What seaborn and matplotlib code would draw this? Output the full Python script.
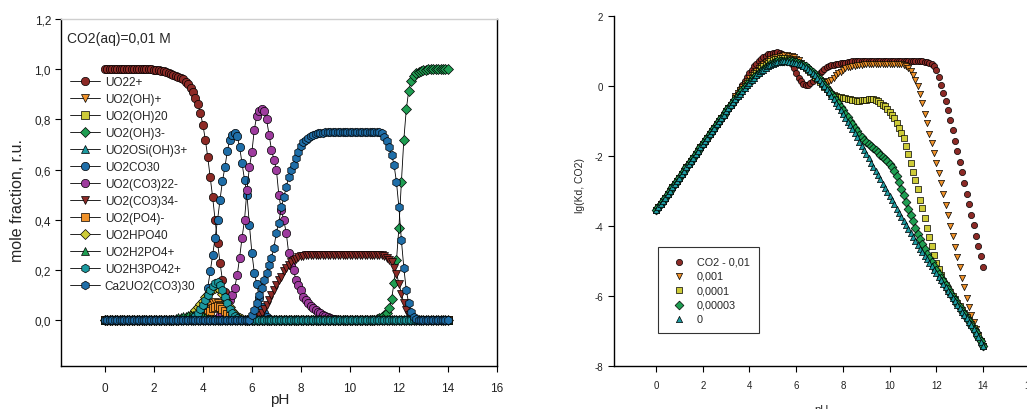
import matplotlib
matplotlib.use("Agg")
import matplotlib.pyplot as plt
import seaborn as sns

sns.set_theme(style="white")
plt.rcParams['font.family'] = ['Liberation Sans', 'DejaVu Sans']

# ---------------- data ----------------
ph = [round(0.1 * i, 1) for i in range(141)]   # pH 0.0 ... 14.0

# left panel: mole fractions (CO2(aq)=0,01 M)
uo2_2p = [1.0]*20 + [0.998,0.997,0.996,0.994,0.992,0.99,0.987,0.983,0.978,0.974,
                     0.97,0.965,0.96,0.95,0.94,0.925,0.91,0.885,0.86,0.825,
                     0.78,0.72,0.65,0.57,0.49,0.40,0.31,0.23,0.16,0.115,
                     0.075,0.045,0.025,0.015,0.008,0.004,0.002] + [0.0]*84
uo2oh_p = [0.0]*37 + [0.005,0.01,0.018,0.028,0.04,0.05,0.06,0.068,0.072,0.07,
                      0.062,0.05,0.036,0.024,0.014,0.008,0.004,0.002] + [0.0]*86
uo2oh2_0 = [0.0]*141
uo2oh3_m = [0.0]*110 + [0.003,0.006,0.01,0.015,0.02,0.03,0.05,0.085,0.15,0.24,
                        0.37,0.55,0.72,0.84,0.915,0.955,0.975,0.985,0.99,0.994,
                        0.996,0.998] + [1.0]*9
uo2osi_p = [0.0]*141
uo2co3_0 = [0.0]*37 + [0.005,0.02,0.04,
                       0.06,0.09,0.13,0.195,0.26,0.33,0.40,0.48,0.555,0.61,
                       0.675,0.72,0.74,0.745,0.735,0.69,0.625,0.56,0.50,0.38,
                       0.27,0.19,0.145,0.09,0.055,0.03,0.015,0.007,0.003] + [0.0]*72
uo2co3_2m = [0.0]*46 + [0.01,0.02,0.03,0.045,
                        0.06,0.08,0.1,0.13,0.18,0.25,0.33,0.40,0.52,0.61,
                        0.67,0.76,0.815,0.835,0.84,0.835,0.80,0.74,0.68,0.64,
                        0.60,0.50,0.44,0.40,0.35,0.27,0.22,0.20,0.16,0.14,
                        0.12,0.095,0.08,0.068,0.058,0.05,0.043,0.035,0.03,0.022,
                        0.017,0.012,0.009,0.006,0.004,0.002] + [0.0]*45
uo2co3_3m = [0.0]*62 + [0.01,0.02,0.03,0.045,0.06,0.08,0.1,0.12,
                        0.14,0.16,0.175,0.195,0.21,0.222,0.232,0.24,0.246,0.251,
                        0.255,0.258,0.26,0.261] + [0.262]*30 + \
            [0.258,0.25,0.24,0.232,0.21,0.187,
             0.147,0.107,0.068,0.04,0.02,0.008,0.003] + [0.0]*14
uo2po4_m = [0.0]*39 + [0.005,0.01,0.018,0.028,0.038,0.048,0.055,0.058,0.055,0.047,
                       0.036,0.025,0.016,0.009,0.005,0.002] + [0.0]*86
uo2hpo4_0 = [0.0]*30 + [0.002,0.004,0.006,0.01,0.015,0.022,0.03,0.04,0.052,0.065,
                        0.078,0.092,0.105,0.117,0.126,0.13,0.128,0.12,0.107,0.09,
                        0.072,0.054,0.038,0.025,0.015,0.008,0.004,0.002] + [0.0]*83
uo2h2po4_p = [0.0]*25 + [0.002,0.003,0.005,0.007,0.009,
                         0.012,0.014,0.016,0.018,0.02,0.021,0.022,0.022,0.021,0.019,
                         0.016,0.013,0.01,0.007,0.005,0.003,0.002] + [0.0]*94
uo2h3po4_2p = [0.0]*34 + [0.003,0.006,0.01,0.018,0.03,0.045,
                          0.063,0.082,0.1,0.12,0.138,0.15,0.152,0.142,0.12,0.095,
                          0.068,0.045,0.028,0.016,0.008,0.004,0.002] + [0.0]*84
ca2uo2co3_0 = [0.0]*60 + [0.02,0.04,0.07,0.1,0.13,0.16,0.19,0.22,0.25,0.29,
                          0.35,0.39,0.45,0.49,0.53,0.57,0.60,0.62,0.645,0.67,
                          0.695,0.71,0.72,0.728,0.735,0.738,0.742,0.745,0.747,0.748] + \
              [0.75]*23 + [0.745,0.73,0.715,0.69,0.66,0.62,0.55,
                           0.45,0.32,0.21,0.12,0.068,0.035,0.015,0.006,0.002] + [0.0]*12

left_names = ["UO22+", "UO2(OH)+", "UO2(OH)20", "UO2(OH)3-", "UO2OSi(OH)3+", "UO2CO30",
              "UO2(CO3)22-", "UO2(CO3)34-", "UO2(PO4)-", "UO2HPO40", "UO2H2PO4+",
              "UO2H3PO42+", "Ca2UO2(CO3)30"]
left_values = [uo2_2p, uo2oh_p, uo2oh2_0, uo2oh3_m, uo2osi_p, uo2co3_0, uo2co3_2m,
               uo2co3_3m, uo2po4_m, uo2hpo4_0, uo2h2po4_p, uo2h3po4_2p, ca2uo2co3_0]

# right panel: lg(Kd) for several CO2 levels
kd_rise = [-3.56,-3.47,-3.38,-3.28,-3.19,-3.09,-3.0,-2.9,-2.81,-2.71,
           -2.62,-2.52,-2.43,-2.33,-2.24,-2.14,-2.05,-1.95,-1.86,-1.76,
           -1.67,-1.57,-1.48,-1.38,-1.29,-1.19,-1.1,-1.0,-0.91,-0.82,
           -0.73,-0.64,-0.55,-0.46]
kd_001 = kd_rise + [-0.3,-0.2,-0.1,0.02,0.14,0.26,
    0.37,0.47,0.56,0.64,0.71,0.77,0.82,0.86,0.9,0.92,
    0.94,0.95,0.96,0.95,0.92,0.87,0.81,0.73,0.63,0.5,
    0.37,0.24,0.14,0.07,0.04,0.04,0.08,0.15,0.23,0.31,
    0.38,0.44,0.49,0.53,0.56,0.59,0.61,0.63,0.64,0.65,
    0.66,0.67,0.68,0.69,0.7,0.7,0.7,0.7,0.7,0.7,
    0.7,0.7,0.7,0.7,0.7,0.7,0.7,0.7,0.7,0.7,
    0.7,0.7,0.7,0.7,0.7,0.7,0.7,0.7,0.7,0.7,
    0.7,0.7,0.7,0.7,0.7,0.69,0.68,0.66,0.62,0.56,
    0.45,0.25,0.02,-0.2,-0.43,-0.68,-0.98,-1.27,-1.56,-1.87,
    -2.18,-2.47,-2.77,-3.08,-3.38,-3.68,-3.98,-4.28,-4.58,-4.87,
    -5.18]
kd_0001 = kd_rise + [-0.3,-0.21,-0.12,-0.03,0.06,0.14,
    0.22,0.3,0.37,0.44,0.51,0.57,0.63,0.68,0.72,0.76,
    0.79,0.82,0.84,0.86,0.87,0.88,0.88,0.87,0.85,0.82,
    0.78,0.73,0.67,0.61,0.55,0.48,0.41,0.35,0.29,0.23,
    0.18,0.14,0.12,0.12,0.14,0.18,0.24,0.3,0.36,0.41,
    0.46,0.5,0.53,0.55,0.57,0.58,0.59,0.6,0.61,0.62,
    0.63,0.63,0.63,0.63,0.63,0.63,0.63,0.63,0.63,0.63,
    0.63,0.63,0.63,0.63,0.63,0.62,0.6,0.56,0.5,0.42,
    0.32,0.18,0.0,-0.22,-0.5,-0.79,-1.06,-1.36,-1.63,-1.92,
    -2.21,-2.5,-2.78,-3.1,-3.41,-3.7,-4.01,-4.3,-4.61,-4.9,
    -5.19,-5.48,-5.76,-6.05,-6.31,-6.56,-6.74,-6.95,-7.12,-7.3,
    -7.45]
kd_00001 = kd_rise + [-0.34,-0.25,-0.16,-0.08,0.0,0.08,
    0.15,0.23,0.3,0.37,0.44,0.5,0.56,0.61,0.66,0.7,
    0.73,0.76,0.78,0.79,0.8,0.8,0.79,0.77,0.75,0.72,
    0.69,0.65,0.61,0.56,0.51,0.45,0.39,0.33,0.26,0.19,
    0.12,0.05,-0.02,-0.09,-0.16,-0.22,-0.26,-0.29,-0.31,-0.33,
    -0.34,-0.35,-0.36,-0.37,-0.39,-0.41,-0.42,-0.42,-0.41,-0.4,
    -0.39,-0.38,-0.38,-0.38,-0.4,-0.44,-0.49,-0.54,-0.58,-0.66,
    -0.74,-0.82,-0.92,-1.05,-1.2,-1.35,-1.5,-1.72,-1.95,-2.2,
    -2.45,-2.7,-2.95,-3.25,-3.5,-3.78,-4.05,-4.32,-4.58,-4.82,
    -5.05,-5.24,-5.42,-5.57,-5.69,-5.8,-5.9,-6.0,-6.1,-6.2,
    -6.3,-6.4,-6.5,-6.6,-6.7,-6.81,-6.92,-7.04,-7.16,-7.29,
    -7.43]
kd_000003 = kd_rise + [-0.36,-0.28,-0.2,-0.12,-0.04,0.04,
    0.11,0.18,0.25,0.32,0.38,0.44,0.49,0.54,0.58,0.62,
    0.65,0.68,0.7,0.71,0.72,0.72,0.72,0.71,0.7,0.69,
    0.68,0.66,0.64,0.6,0.56,0.51,0.46,0.4,0.33,0.26,
    0.19,0.11,0.02,-0.05,-0.14,-0.23,-0.32,-0.41,-0.5,-0.6,
    -0.7,-0.8,-0.9,-1.0,-1.1,-1.2,-1.3,-1.39,-1.47,-1.54,
    -1.6,-1.66,-1.72,-1.78,-1.84,-1.9,-1.97,-2.03,-2.09,-2.15,
    -2.22,-2.31,-2.42,-2.57,-2.75,-2.94,-3.13,-3.32,-3.51,-3.69,
    -3.87,-4.05,-4.22,-4.38,-4.53,-4.67,-4.8,-4.92,-5.04,-5.15,
    -5.26,-5.37,-5.48,-5.59,-5.7,-5.81,-5.92,-6.03,-6.13,-6.23,
    -6.33,-6.43,-6.53,-6.63,-6.73,-6.83,-6.94,-7.05,-7.17,-7.3,
    -7.44]
kd_0 = kd_rise + [-0.38,-0.3,-0.22,-0.14,-0.06,0.02,
    0.09,0.16,0.23,0.3,0.36,0.42,0.47,0.52,0.56,0.6,
    0.63,0.66,0.68,0.69,0.7,0.7,0.7,0.69,0.68,0.67,
    0.66,0.64,0.62,0.58,0.54,0.49,0.44,0.38,0.31,0.23,
    0.16,0.08,0.0,-0.08,-0.18,-0.28,-0.38,-0.48,-0.58,-0.69,
    -0.8,-0.91,-1.02,-1.13,-1.24,-1.35,-1.47,-1.59,-1.71,-1.83,
    -1.95,-2.07,-2.19,-2.31,-2.43,-2.55,-2.67,-2.79,-2.91,-3.03,
    -3.15,-3.27,-3.39,-3.51,-3.63,-3.75,-3.87,-3.99,-4.1,-4.21,
    -4.32,-4.43,-4.54,-4.65,-4.75,-4.85,-4.95,-5.05,-5.15,-5.25,
    -5.35,-5.45,-5.55,-5.65,-5.75,-5.85,-5.95,-6.05,-6.15,-6.25,
    -6.35,-6.45,-6.55,-6.65,-6.75,-6.85,-6.96,-7.07,-7.18,-7.31,
    -7.45]

right_names = ["CO2 - 0,01", "0,001", "0,0001", "0,00003", "0"]
right_values = [kd_001, kd_0001, kd_00001, kd_000003, kd_0]

left_yticks = [0.0, 0.2, 0.4, 0.6, 0.8, 1.0, 1.2]
x_ticks = [0, 2, 4, 6, 8, 10, 12, 14, 16]
right_yticks = [-8, -6, -4, -2, 0, 2]

# ---------------- styles ----------------
RED = "#8c2a26"
ORANGE = "#f0922a"
YELLOW = "#cdcb38"
GREEN = "#1f9e52"
TEAL = "#1c9aa0"
BLUE = "#1f6ea8"
PURPLE = "#9e3c9e"

left_styles = [("o", RED, 6), ("v", ORANGE, 6), ("s", YELLOW, 5.2), ("D", GREEN, 5.2),
               ("^", TEAL, 6), ("o", BLUE, 6), ("o", PURPLE, 6), ("v", RED, 6),
               ("s", ORANGE, 5.2), ("D", YELLOW, 5.2), ("^", GREEN, 6), ("h", TEAL, 6.2),
               ("h", BLUE, 6.2)]
right_styles = [("o", RED), ("v", ORANGE), ("s", YELLOW), ("D", GREEN), ("^", TEAL)]

fig = plt.figure(figsize=(10.27, 4.10), dpi=100)
ax1 = fig.add_axes([0.0591, 0.1056, 0.4248, 0.8456])
ax2 = fig.add_axes([0.5979, 0.1056, 0.4047, 0.8529])

# ---------------- left panel ----------------
for name, vals, (mk, col, ms) in zip(left_names, left_values, left_styles):
    sns.lineplot(x=ph, y=vals, ax=ax1, color="black", linewidth=0.6, marker=mk,
                 markersize=ms, markerfacecolor=col, markeredgecolor="black",
                 markeredgewidth=0.5, label=name, sort=False, estimator=None)

ax1.set_xlim(-1.8, 16)
ax1.set_ylim(-0.18, 1.2)
ax1.set_xticks(x_ticks)
ax1.set_xticklabels([str(t) for t in x_ticks])
ax1.set_yticks(left_yticks)
ax1.set_yticklabels([f"{v:.1f}".replace(".", ",") for v in left_yticks])
ax1.tick_params(axis="both", which="both", bottom=True, left=True, direction="out",
                length=4, width=0.8, color="black", labelsize=8.5, labelcolor="#222222")
ax1.tick_params(axis="x", pad=8)
ax1.tick_params(axis="y", pad=3)
for side in ["left", "bottom", "right"]:
    ax1.spines[side].set_color("black")
    ax1.spines[side].set_linewidth(1.0)
ax1.spines["top"].set_color("#cfcfcf")
ax1.spines["top"].set_linewidth(1.0)

ax1.set_xlabel("pH", fontsize=11)
ax1.xaxis.set_label_coords(0.503, -0.096)
ax1.xaxis.label.set_va("center")
ax1.set_ylabel("mole fraction, r.u.", fontsize=11.5)
ax1.yaxis.set_label_coords(-0.100, 0.48)
ax1.yaxis.label.set_va("center")

ax1.text(0.015, 0.945, "CO2(aq)=0,01 M", transform=ax1.transAxes, fontsize=10,
         ha="left", va="center")
ax1.legend(loc="upper left", bbox_to_anchor=(0.0213, 0.835), frameon=False,
           fontsize=8.5, labelspacing=0.42, handlelength=2.55, handletextpad=0.4,
           borderpad=0, borderaxespad=0)

# ---------------- right panel ----------------
for name, vals, (mk, col) in zip(right_names, right_values, right_styles):
    sns.scatterplot(x=ph, y=vals, ax=ax2, marker=mk, color=col, edgecolor="black",
                    linewidth=0.5, s=20, label=name, zorder=3)

ax2.set_xlim(-1.8, 16)
ax2.set_ylim(-8, 2)
ax2.set_xticks(x_ticks)
ax2.set_xticklabels([str(t) for t in x_ticks])
ax2.set_yticks(right_yticks)
ax2.set_yticklabels([str(t) for t in right_yticks])
ax2.tick_params(axis="both", which="both", bottom=True, left=True, direction="out",
                length=4, width=0.8, color="black", labelsize=7, labelcolor="#222222")
ax2.tick_params(axis="x", pad=6)
ax2.tick_params(axis="y", pad=4)
for side in ["left", "bottom"]:
    ax2.spines[side].set_color("black")
    ax2.spines[side].set_linewidth(1.0)
ax2.spines["top"].set_visible(False)
ax2.spines["right"].set_visible(False)

ax2.set_xlabel("pH", fontsize=8)
ax2.xaxis.set_label_coords(0.5, -0.125)
ax2.xaxis.label.set_va("center")
ax2.set_ylabel("lg(Kd, CO2)", fontsize=7.5)
ax2.yaxis.set_label_coords(-0.082, 0.517)
ax2.yaxis.label.set_va("center")

leg2 = ax2.legend(loc="upper left", bbox_to_anchor=(0.106, 0.339), frameon=True,
                  fancybox=False, fontsize=7.8, labelspacing=0.4, handlelength=2.2,
                  handletextpad=0.55, borderpad=0.85, borderaxespad=0)
leg2.get_frame().set_edgecolor("black")
leg2.get_frame().set_linewidth(0.8)

fig.savefig("out.png", dpi=100)
